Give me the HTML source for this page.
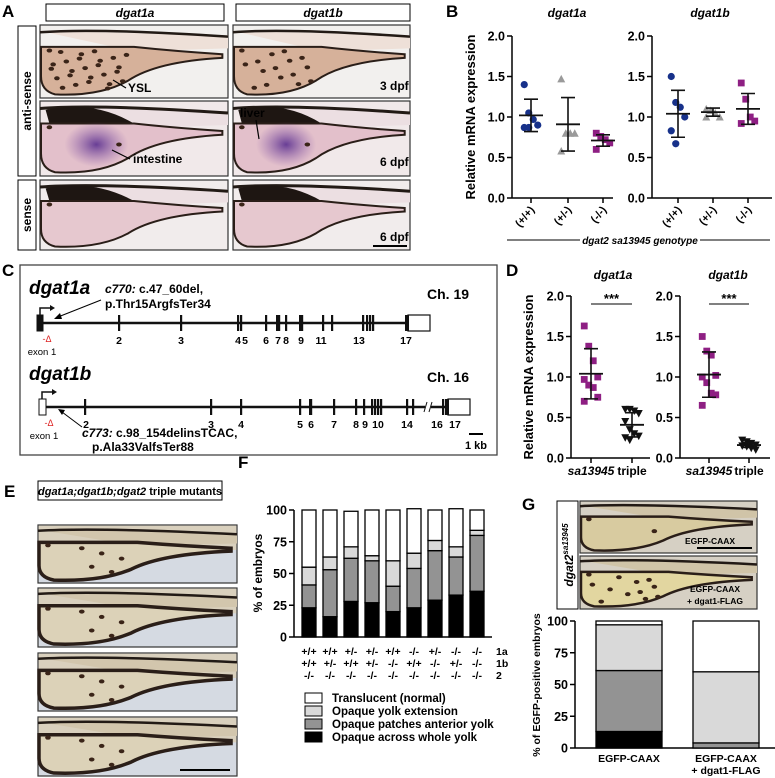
<!DOCTYPE html>
<html><head><meta charset="utf-8">
<style>
html,body{margin:0;padding:0;background:#fff;}
svg{display:block;font-family:"Liberation Sans",Arial,sans-serif;}
.b{font-weight:bold;}
</style></head>
<body>
<svg id="fig" width="775" height="778" viewBox="0 0 775 778" xmlns="http://www.w3.org/2000/svg">
<defs>
  <radialGradient id="stainG"><stop offset="0" stop-color="#5a2f8f" stop-opacity="0.9"/><stop offset="1" stop-color="#8a5aa8" stop-opacity="0"/></radialGradient>
</defs>

<!-- ============ PANEL A ============ -->
<g>
  <text x="2" y="17" font-size="17" class="b">A</text>
  <rect x="46" y="4" width="178" height="17" fill="#fff" stroke="#000" stroke-width="1"/>
  <text x="135" y="17" font-size="12" font-style="italic" class="b" text-anchor="middle">dgat1a</text>
  <rect x="236" y="4" width="174" height="17" fill="#fff" stroke="#000" stroke-width="1"/>
  <text x="323" y="17" font-size="12" font-style="italic" class="b" text-anchor="middle">dgat1b</text>
  <rect x="18" y="26" width="18" height="150" fill="#fff" stroke="#000"/>
  <text transform="translate(31,101) rotate(-90)" font-size="12" class="b" text-anchor="middle">anti-sense</text>
  <rect x="18" y="180" width="18" height="70" fill="#fff" stroke="#000"/>
  <text transform="translate(31,215) rotate(-90)" font-size="12" class="b" text-anchor="middle">sense</text>
  <g id="photosA"></g>
</g>

<!-- ============ PANEL B ============ -->
<g>
  <text x="446" y="17" font-size="17" class="b">B</text>
  <text x="567" y="17" font-size="12" font-style="italic" class="b" text-anchor="middle">dgat1a</text>
  <text x="710" y="17" font-size="12" font-style="italic" class="b" text-anchor="middle">dgat1b</text>
  <text transform="translate(475,117) rotate(-90)" font-size="13" class="b" text-anchor="middle">Relative mRNA expression</text>
  <line x1="507" y1="240" x2="580" y2="240" stroke="#000"/>
  <line x1="700" y1="240" x2="770" y2="240" stroke="#000"/>
  <text x="640" y="244" font-size="10" font-style="italic" class="b" text-anchor="middle">dgat2 sa13945 genotype</text>
  <g id="chartB"></g>
</g>

<!-- ============ PANEL C ============ -->
<g>
  <text x="2" y="276" font-size="17" class="b">C</text>
  <rect x="20" y="265" width="477" height="190" fill="none" stroke="#444" stroke-width="1.3"/>
  <text x="29" y="294" font-size="19" font-style="italic" class="b">dgat1a</text>
  <text x="427" y="299" font-size="14" class="b">Ch. 19</text>
  <text x="105" y="293" font-size="12" class="b"><tspan font-style="italic">c770:</tspan> c.47_60del,</text>
  <text x="105" y="308" font-size="12" class="b">p.Thr15ArgfsTer34</text>
  <line x1="101" y1="300" x2="58" y2="317" stroke="#000"/>
  <polygon points="54,319 60,313 62,319" fill="#000"/>
  <text x="29" y="380" font-size="19" font-style="italic" class="b">dgat1b</text>
  <text x="427" y="382" font-size="14" class="b">Ch. 16</text>
  <text x="82" y="437" font-size="12" class="b"><tspan font-style="italic">c773:</tspan> c.98_154delinsTCAC,</text>
  <text x="92" y="451" font-size="12" class="b">p.Ala33ValfsTer88</text>
  <line x1="82" y1="427" x2="62" y2="412" stroke="#000"/>
  <polygon points="58,409 65,410 62,415" fill="#000"/>
  <line x1="469" y1="434" x2="483" y2="434" stroke="#000" stroke-width="2"/>
  <text x="476" y="449" font-size="11" class="b" text-anchor="middle">1 kb</text>
  <g id="genes"></g>
</g>

<!-- ============ PANEL D ============ -->
<g>
  <text x="506" y="276" font-size="17" class="b">D</text>
  <text x="613" y="279" font-size="12" font-style="italic" class="b" text-anchor="middle">dgat1a</text>
  <text x="728" y="279" font-size="12" font-style="italic" class="b" text-anchor="middle">dgat1b</text>
  <text transform="translate(533,377) rotate(-90)" font-size="13" class="b" text-anchor="middle">Relative mRNA expression</text>
  <g id="chartD"></g>
</g>

<!-- ============ PANEL E ============ -->
<g>
  <text x="4" y="497" font-size="17" class="b">E</text>
  <rect x="38" y="481" width="184" height="19" fill="#fff" stroke="#000"/>
  <text x="130" y="495" font-size="11" class="b" text-anchor="middle"><tspan font-style="italic">dgat1a;dgat1b;dgat2</tspan> triple mutants</text>
  <g id="photosE"></g>
</g>

<!-- ============ PANEL F ============ -->
<g>
  <text x="238" y="468" font-size="17" class="b">F</text>
  <text transform="translate(262,573) rotate(-90)" font-size="12" text-anchor="middle" class="b">% of embryos</text>
  <g id="chartF"></g>
  <g id="legendF"></g>
</g>

<!-- ============ PANEL G ============ -->
<g>
  <text x="522" y="510" font-size="17" class="b">G</text>
  <rect x="557" y="501" width="21" height="108" fill="#fff" stroke="#000"/>
  <text transform="translate(573,555) rotate(-90)" font-size="12" text-anchor="middle" font-style="italic" class="b">dgat2<tspan font-size="8" dy="-5">sa13945</tspan></text>
  <g id="photosG"></g>
  <text transform="translate(540,685) rotate(-90)" font-size="10.5" text-anchor="middle" class="b">% of EGFP-positive embryos</text>
  <g id="chartG"></g>
</g>
</svg>

<script>
// ---------- DATA ----------
const B_cats = ['(+/+)','(+/-)','(-/-)'];
const B_ticks = [0,0.5,1.0,1.5,2.0];
const B_a_wt = [1.40,1.05,0.97,0.90,0.87,0.87];
const B_a_het = [1.47,0.80,0.80,0.80,0.58];
const B_a_mut = [0.80,0.76,0.72,0.68,0.60];
const B_a_mean = [1.02,0.91,0.71];
const B_a_sd = [0.20,0.33,0.07];
const B_b_wt = [1.50,1.18,1.12,1.00,0.83,0.67];
const B_b_het = [1.10,1.08,1.05,1.00,1.00];
const B_b_mut = [1.42,1.22,1.00,0.95,0.92];
const B_b_mean = [1.04,1.06,1.10];
const B_b_sd = [0.29,0.05,0.19];

const D_cats = ['sa13945','triple'];
const D_a_sa = [1.63,1.38,1.20,1.00,0.97,0.90,0.87,0.75,0.70];
const D_a_tr = [0.60,0.60,0.58,0.55,0.45,0.35,0.30,0.27,0.25,0.22];
const D_a_mean = [1.04,0.41];
const D_a_sd = [0.31,0.15];
const D_b_sa = [1.50,1.32,1.27,1.02,1.00,0.93,0.80,0.78,0.65];
const D_b_tr = [0.22,0.20,0.18,0.16,0.15,0.14,0.12,0.10];
const D_b_mean = [1.03,0.16];
const D_b_sd = [0.28,0.03];

const F_row1 = ['+/+','+/+','+/-','+/-','+/+','-/-','+/-','-/-','-/-'];
const F_row2 = ['+/+','+/-','+/+','+/-','-/-','+/+','-/-','+/-','-/-'];
const F_row3 = ['-/-','-/-','-/-','-/-','-/-','-/-','-/-','-/-','-/-'];
const F_rowNames = ['1a','1b','2'];
const F_whole = [23,16,28,27,20,23,29,33,36];
const F_patches = [18,37,34,33,20,31,39,30,44];
const F_ext = [14,10,9,4,20,12,8,8,4];
const F_transl = [45,37,28,36,40,35,24,30,16];
const F_ticks = [0,25,50,75,100];
const legendLabels = ['Translucent (normal)','Opaque yolk extension','Opaque patches anterior yolk','Opaque across whole yolk'];

const G_cats = ['EGFP-CAAX','EGFP-CAAX|+ dgat1-FLAG'];
const G_whole = [13,0];
const G_patches = [48,4];
const G_ext = [36,56];
const G_transl = [3,40];

const exons1a = [119,181,238,241,266,277,279,286,300,302,323,332,363,367,370,373];
const exons1aLabels = [['2',119],['3',181],['4',238],['5',245],['6',266],['7',278],['8',286],['9',301],['11',321],['13',359],['17',406]];
const exons1b = [85,211,241,300,310,311,334,356,364,372,375,378,381,407,413,443,446];
const exons1bLabels = [['2',86],['3',211],['4',241],['5',300],['6',311],['7',334],['8',356],['9',365],['10',378],['14',407],['16',437],['17',455]];

const NS='http://www.w3.org/2000/svg';
function mk(tag, attrs, parent){const e=document.createElementNS(NS,tag);for(const k in attrs)e.setAttribute(k,attrs[k]);parent.appendChild(e);return e;}

// ---------- photos ----------
function embryo(g, x, y, w, h, o, name){
  const r=mk('rect',{x:x,y:y,width:w,height:h,fill:o.bg,stroke:'#333','stroke-width':1.2},g);
  
  
  if(o.topBand) mk('rect',{x:x+0.6,y:y+0.6,width:w-1.2,height:h*0.42,fill:o.topBand},g);
  // body / tail band
  mk('path',{d:`M${x} ${y+h*0.08} L${x+w} ${y+h*0.14} L${x+w} ${y+h*0.32} L${x+w*0.5} ${y+h*0.36} Z`,fill:o.body},g);
  mk('path',{d:`M${x} ${y+h*0.1} Q${x+w*0.3} ${y+h*0.04} ${x+w} ${y+h*0.16}`,stroke:'#221a15','stroke-width':o.hump?3:2.5,fill:'none'},g);
  if(o.hump){mk('path',{d:`M${x+w*0.03} ${y+h*0.12} Q${x+w*0.28} ${y-h*0.02} ${x+w*0.5} ${y+h*0.3} L${x+w*0.05} ${y+h*0.3} Z`,fill:'#1e1612'},g);}
  const yolk=mk('path',{d:`M${x+1} ${y+h*0.3} L${x+w*0.5} ${y+h*0.3} Q${x+w*0.72} ${y+h*0.36} ${x+w*0.97} ${y+h*0.4} L${x+w*0.97} ${y+h*0.45} Q${x+w*0.62} ${y+h*0.5} ${x+w*0.47} ${y+h*0.76} Q${x+w*0.32} ${y+h*0.98} ${x+w*0.08} ${y+h*0.95} Q${x+1} ${y+h*0.9} ${x+1} ${y+h*0.7} Z`,fill:o.yolk,stroke:'#2a1e18','stroke-width':o.outline||2},g);
  
  
  if(o.stain){const s=mk('ellipse',{cx:x+w*0.3,cy:y+h*0.58,rx:w*0.17,ry:h*0.3,fill:'url(#stainG)'},g);
    
    }
  for(let i=0;i<(o.spots||0);i++){const sx=x+w*(0.05+((i*37)%42)/100), sy=y+h*(0.35+((i*23)%55)/100);
    mk('ellipse',{cx:sx,cy:sy,rx:2.8,ry:2,fill:'#3a2418'},g);}
}
const pA=document.getElementById('photosA');
const A1={bg:'#f2f0ee',body:'#eee0d8',yolk:'#d6b19a',spots:26};
const A2={bg:'#f1e9ea',body:'#ecdfe2',yolk:'#e3c0cb',stain:true,hump:true,spots:2};
const A3={bg:'#f1ecec',body:'#ecdfe2',yolk:'#e6c8cf',hump:true,spots:1};
embryo(pA,40,25,188,73,A1,'photo-dgat1a-3dpf');
embryo(pA,233,25,177,73,Object.assign({},A1,{spots:16}),'photo-dgat1b-3dpf');
embryo(pA,40,101,188,75,A2,'photo-dgat1a-6dpf');
embryo(pA,233,101,177,75,A2,'photo-dgat1b-6dpf');
embryo(pA,40,180,188,70,A3,'photo-dgat1a-sense');
embryo(pA,233,180,177,70,A3,'photo-dgat1b-sense');
const tA=[['YSL',128,92],['3 dpf',380,90],['liver',240,117],['intestine',133,163],['6 dpf',380,166],['6 dpf',380,241]];
tA.forEach(t=>{const e=mk('text',{x:t[1],y:t[2],'font-size':12,'font-weight':'bold',fill:'#000'},pA);e.textContent=t[0];
  
  });
mk('line',{x1:126,y1:88,x2:113,y2:80,stroke:'#000','stroke-width':1.2},pA);
mk('line',{x1:130,y1:159,x2:112,y2:150,stroke:'#000','stroke-width':1.2},pA);
mk('line',{x1:256,y1:120,x2:259,y2:139,stroke:'#000','stroke-width':1.2},pA);
const sbA=mk('line',{x1:373,y1:246,x2:407,y2:246,stroke:'#000','stroke-width':2},pA);



const pE=document.getElementById('photosE');
const EO={bg:'#d5dae2',topBand:'#d9d0bd',body:'#d2c6ad',yolk:'#dcd2b8',outline:3.5,hump:false,spots:6};
[[525,58],[588,59],[653,58],[717,59]].forEach((p,i)=>{
  embryo(pE,38,p[0],199,p[1],EO,'photo-triple-'+(i+1));
});
const sbE=mk('line',{x1:180,y1:770,x2:230,y2:770,stroke:'#000','stroke-width':2},pE);



const pG=document.getElementById('photosG');
embryo(pG,580,501,177,52,{bg:'#d6d0c4',body:'#d0c4a8',yolk:'#d8cba0',outline:2.5,spots:2},'photo-egfp-caax');
embryo(pG,580,556,177,53,{bg:'#d6d0c4',body:'#d0c4a8',yolk:'#e2d6a0',outline:2.5,spots:12},'photo-egfp-caax-dgat1');
[['EGFP-CAAX',710,544],['EGFP-CAAX',715,592],['+ dgat1-FLAG',715,604]].forEach(t=>{
  const e=mk('text',{x:t[1],y:t[2],'font-size':8.5,'text-anchor':'middle','font-weight':'bold'},pG);e.textContent=t[0];
  
  });
mk('line',{x1:697,y1:548,x2:752,y2:548,stroke:'#000','stroke-width':2},pG);

// ---------- genes ----------
const gG=document.getElementById('genes');
function gene(y,x0,x1,exons,labels,startBox,endBox,name,brk){
  const l=mk('line',{x1:x0,y1:y,x2:x1,y2:y,stroke:'#111','stroke-width':2.5},gG);
  
  
  const sb=mk('rect',{x:startBox[0],y:y-8,width:startBox[1],height:16,fill:startBox[2],stroke:'#111'},gG);
  
  
  const eb=mk('rect',{x:endBox[0],y:y-8,width:endBox[1],height:16,fill:'#fff',stroke:'#111','stroke-width':1.2},gG);
  
  
  mk('rect',{x:endBox[0]-3,y:y-8,width:4,height:16,fill:'#111'},gG);
  exons.forEach(x=>{const e=mk('rect',{x:x-1,y:y-8,width:2.2,height:16,fill:'#111'},gG);
    
    });
  labels.forEach(t=>{const e=mk('text',{x:t[1],y:y+21,'font-size':10.5,'font-weight':'bold','text-anchor':'middle'},gG);e.textContent=t[0];
    
    });
  mk('path',{d:`M${startBox[0]+3} ${y-8} V${y-15} H${startBox[0]+13}`,stroke:'#111','stroke-width':1.5,fill:'none'},gG);
  mk('polygon',{points:`${startBox[0]+13},${y-18} ${startBox[0]+18},${y-15} ${startBox[0]+13},${y-12}`,fill:'#111'},gG);
  const d=mk('text',{x:startBox[0]+10,y:y+19,'font-size':9,fill:'#d22','text-anchor':'middle'},gG);d.textContent='-\u0394';
  const ex=mk('text',{x:startBox[0]+5,y:y+32,'font-size':9.5,'text-anchor':'middle'},gG);ex.textContent='exon 1';
  
  
  if(brk){mk('rect',{x:brk-3,y:y-5,width:6,height:10,fill:'#fff'},gG);
    mk('path',{d:`M${brk-4} ${y+5} L${brk-1} ${y-5} M${brk+1} ${y+5} L${brk+4} ${y-5}`,stroke:'#111','stroke-width':1},gG);}
}
gene(323,40,405,exons1a,exons1aLabels,[37,6,'#111'],[408,22],'dgat1a');
gene(407,42,448,exons1b,exons1bLabels,[39,7,'#fff'],[448,22],'dgat1b',428);

// ---------- scatter charts ----------
function scatterChart(g, ax, xEnd, y0, yTop, cats, catX, series, markers, means, sds, name, rotLabels, italicFirst){
  const yv=v=>y0-(v/2)*(y0-yTop);
  const a=mk('line',{x1:ax,y1:yTop,x2:ax,y2:y0,stroke:'#000','stroke-width':1.5},g);
  
  
  const xa=mk('line',{x1:ax,y1:y0,x2:xEnd,y2:y0,stroke:'#000','stroke-width':1.5},g);
  
  
  B_ticks.forEach(t=>{mk('line',{x1:ax-5,y1:yv(t),x2:ax,y2:yv(t),stroke:'#000','stroke-width':1.5},g);
    const e=mk('text',{x:ax-7,y:yv(t)+4.5,'font-size':12.5,'font-weight':'bold','text-anchor':'end'},g);e.textContent=t.toFixed(1);
    
    });
  cats.forEach((c,i)=>{const cx=catX[i];
    mk('line',{x1:cx,y1:y0,x2:cx,y2:y0+5,stroke:'#000','stroke-width':1.5},g);
    let e;
    if(rotLabels){e=mk('text',{transform:`translate(${cx+4},${y0+12}) rotate(-50)`,'font-size':11,'font-weight':'bold','text-anchor':'end'},g);}
    else{e=mk('text',{x:cx,y:y0+17,'font-size':12,'font-weight':'bold','text-anchor':'middle','font-style':(italicFirst&&i==0)?'italic':'normal'},g);}
    e.textContent=c;
    
    
    const vals=series[i], m=markers[i];
    vals.forEach((v,j)=>{const px=cx+((j%4)-1.5)*4.5, py=yv(v);
      let p;
      if(m[0]=='c') p=mk('circle',{cx:px,cy:py,r:3.6,fill:m[1]},g);
      else if(m[0]=='s') p=mk('rect',{x:px-3.4,y:py-3.4,width:6.8,height:6.8,fill:m[1]},g);
      else if(m[0]=='t') p=mk('polygon',{points:`${px-4},${py+3.5} ${px+4},${py+3.5} ${px},${py-4}`,fill:m[1]},g);
      else p=mk('polygon',{points:`${px-4},${py-3.5} ${px+4},${py-3.5} ${px},${py+4}`,fill:m[1]},g);
      
      });
    const mn=means[i], sd=sds[i];
    const ml=mk('line',{x1:cx-12,y1:yv(mn),x2:cx+12,y2:yv(mn),stroke:'#111','stroke-width':1.8},g);
    
    
    const el=mk('path',{d:`M${cx} ${yv(mn+sd)} V${yv(mn-sd)} M${cx-7} ${yv(mn+sd)} H${cx+7} M${cx-7} ${yv(mn-sd)} H${cx+7}`,stroke:'#111','stroke-width':1.6,fill:'none'},g);
    
    
  });
}
const cB=document.getElementById('chartB');
const blue=['c','#17318a'], gray=['t','#9a9a9a'], purp=['s','#8e1f83'], blk=['v','#111'];
scatterChart(cB,512,613,198,36,B_cats,[531,568,603],[B_a_wt,B_a_het,B_a_mut],[blue,gray,purp],B_a_mean,B_a_sd,'b-dgat1a',true);
scatterChart(cB,652,772,198,36,B_cats,[678,713,748],[B_b_wt,B_b_het,B_b_mut],[blue,gray,purp],B_b_mean,B_b_sd,'b-dgat1b',true);
const cD=document.getElementById('chartD');
scatterChart(cD,571,650,458,296,D_cats,[591,632],[D_a_sa,D_a_tr],[purp,blk],D_a_mean,D_a_sd,'d-dgat1a',false,true);
scatterChart(cD,680,770,458,296,D_cats,[709,749],[D_b_sa,D_b_tr],[purp,blk],D_b_mean,D_b_sd,'d-dgat1b',false,true);
[[591,632],[709,749]].forEach(p=>{
  const l=mk('line',{x1:p[0],y1:304,x2:p[1],y2:304,stroke:'#000'},cD);
  
  
  const s=mk('text',{x:(p[0]+p[1])/2,y:303,'font-size':13,'font-weight':'bold','text-anchor':'middle'},cD);s.textContent='***';
  
  
});

// ---------- stacked bars ----------
const fills=['#000','#939393','#d9d9d9','#fff'];
function stacked(g, ax, xEnd, y0, yTop, xs, bw, layers, name){
  const yv=v=>y0-(v/100)*(y0-yTop);
  const a=mk('line',{x1:ax,y1:yTop,x2:ax,y2:y0,stroke:'#000','stroke-width':1.5},g);
  
  
  const xa=mk('line',{x1:ax,y1:y0,x2:xEnd,y2:y0,stroke:'#000','stroke-width':1.5},g);
  
  
  F_ticks.forEach(t=>{mk('line',{x1:ax-5,y1:yv(t),x2:ax,y2:yv(t),stroke:'#000','stroke-width':1.5},g);
    const e=mk('text',{x:ax-7,y:yv(t)+4.5,'font-size':12.5,'font-weight':'bold','text-anchor':'end'},g);e.textContent=t;
    
    });
  xs.forEach((x,i)=>{let cum=0;
    layers.forEach((L,k)=>{const v=L[i]; if(v<=0) return;
      const r=mk('rect',{x:x,y:yv(cum+v),width:bw,height:yv(cum)-yv(cum+v),fill:fills[k],stroke:'#000','stroke-width':1.3},g);
      
      
      cum+=v;});
  });
  return yv;
}
const cF=document.getElementById('chartF');
const fx=F_whole.map((_,i)=>302+i*21);
stacked(cF,294,492,637,510,fx,14,[F_whole,F_patches,F_ext,F_transl],'f');
[F_row1,F_row2,F_row3].forEach((row,r)=>{
  row.forEach((t,i)=>{const e=mk('text',{x:fx[i]+7,y:655+r*12,'font-size':10.5,'font-weight':'bold','text-anchor':'middle'},cF);e.textContent=t;
    
    });
  const n=mk('text',{x:496,y:655+r*12,'font-size':10.5,'font-weight':'bold'},cF);n.textContent=F_rowNames[r];
  
  
});
const lF=document.getElementById('legendF');
legendLabels.forEach((t,i)=>{
  const r=mk('rect',{x:305,y:693+i*13,width:17,height:10,fill:fills[3-i],stroke:'#000'},lF);
  
  
  const e=mk('text',{x:332,y:702+i*13,'font-size':11.5,'font-weight':'bold'},lF);e.textContent=t;
  
  
});
const cG=document.getElementById('chartG');
const gx=[596,693];
stacked(cG,575,775,748,621,gx,66,[G_whole,G_patches,G_ext,G_transl],'g');
G_cats.forEach((c,i)=>{c.split('|').forEach((s,j)=>{
  const e=mk('text',{x:gx[i]+33,y:762+j*12,'font-size':10.5,'font-weight':'bold','text-anchor':'middle'},cG);e.textContent=s;
  
  });});
</script>
</body></html>
